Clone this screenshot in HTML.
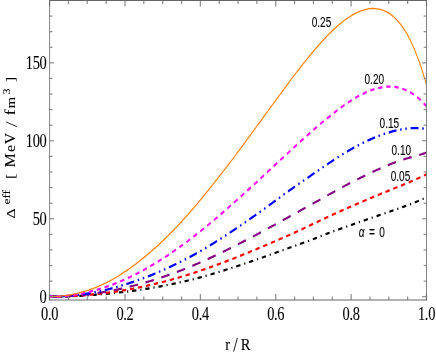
<!DOCTYPE html>
<html><head><meta charset="utf-8"><style>
html,body{margin:0;padding:0;background:#fff;}
svg{display:block} text{-webkit-font-smoothing:antialiased;} .t{opacity:0.999}
</style></head><body>
<svg width="436" height="354" viewBox="0 0 436 354">
<rect width="436" height="354" fill="#fff"/>
<defs><clipPath id="c"><rect x="63.67137355584082" y="0.5" width="483.8254172015404" height="299.5"/></clipPath></defs>
<g transform="scale(0.779,1)" clip-path="url(#c)">
<path d="M63.67,296.70 L66.09,296.70 L68.51,296.69 L70.93,296.67 L73.35,296.65 L75.77,296.62 L78.19,296.58 L80.61,296.54 L83.02,296.49 L85.44,296.43 L87.86,296.37 L90.28,296.30 L92.70,296.23 L95.12,296.15 L97.54,296.06 L99.96,295.96 L102.38,295.86 L104.80,295.75 L107.22,295.64 L109.63,295.52 L112.05,295.39 L114.47,295.25 L116.89,295.11 L119.31,294.96 L121.73,294.81 L124.15,294.65 L126.57,294.48 L128.99,294.31 L131.41,294.14 L133.83,293.96 L136.25,293.79 L138.66,293.61 L141.08,293.43 L143.50,293.24 L145.92,293.06 L148.34,292.87 L150.76,292.67 L153.18,292.47 L155.60,292.26 L158.02,292.04 L160.44,291.82 L162.86,291.59 L165.27,291.36 L167.69,291.12 L170.11,290.87 L172.53,290.61 L174.95,290.35 L177.37,290.08 L179.79,289.80 L182.21,289.52 L184.63,289.23 L187.05,288.93 L189.47,288.63 L191.89,288.32 L194.30,288.00 L196.72,287.67 L199.14,287.34 L201.56,287.01 L203.98,286.66 L206.40,286.31 L208.82,285.95 L211.24,285.59 L213.66,285.22 L216.08,284.84 L218.50,284.46 L220.91,284.07 L223.33,283.67 L225.75,283.27 L228.17,282.86 L230.59,282.44 L233.01,282.02 L235.43,281.59 L237.85,281.15 L240.27,280.71 L242.69,280.26 L245.11,279.81 L247.53,279.34 L249.94,278.87 L252.36,278.39 L254.78,277.90 L257.20,277.40 L259.62,276.89 L262.04,276.36 L264.46,275.83 L266.88,275.29 L269.30,274.74 L271.72,274.18 L274.14,273.62 L276.55,273.05 L278.97,272.48 L281.39,271.90 L283.81,271.31 L286.23,270.72 L288.65,270.13 L291.07,269.53 L293.49,268.93 L295.91,268.32 L298.33,267.71 L300.75,267.10 L303.16,266.48 L305.58,265.85 L308.00,265.22 L310.42,264.59 L312.84,263.96 L315.26,263.32 L317.68,262.68 L320.10,262.03 L322.52,261.38 L324.94,260.73 L327.36,260.08 L329.78,259.42 L332.19,258.76 L334.61,258.10 L337.03,257.44 L339.45,256.77 L341.87,256.10 L344.29,255.43 L346.71,254.76 L349.13,254.09 L351.55,253.42 L353.97,252.74 L356.39,252.06 L358.80,251.39 L361.22,250.71 L363.64,250.03 L366.06,249.35 L368.48,248.67 L370.90,247.99 L373.32,247.31 L375.74,246.63 L378.16,245.95 L380.58,245.27 L383.00,244.59 L385.42,243.92 L387.83,243.24 L390.25,242.56 L392.67,241.87 L395.09,241.19 L397.51,240.49 L399.93,239.78 L402.35,239.06 L404.77,238.33 L407.19,237.59 L409.61,236.84 L412.03,236.08 L414.44,235.33 L416.86,234.59 L419.28,233.86 L421.70,233.14 L424.12,232.43 L426.54,231.73 L428.96,231.03 L431.38,230.35 L433.80,229.67 L436.22,228.99 L438.64,228.32 L441.06,227.64 L443.47,226.97 L445.89,226.31 L448.31,225.64 L450.73,224.98 L453.15,224.32 L455.57,223.66 L457.99,223.00 L460.41,222.34 L462.83,221.69 L465.25,221.04 L467.67,220.38 L470.08,219.73 L472.50,219.08 L474.92,218.43 L477.34,217.78 L479.76,217.13 L482.18,216.48 L484.60,215.83 L487.02,215.18 L489.44,214.52 L491.86,213.87 L494.28,213.22 L496.70,212.57 L499.11,211.91 L501.53,211.26 L503.95,210.61 L506.37,209.96 L508.79,209.31 L511.21,208.65 L513.63,207.98 L516.05,207.31 L518.47,206.62 L520.89,205.93 L523.31,205.23 L525.72,204.51 L528.14,203.78 L530.56,203.04 L532.98,202.28 L535.40,201.51 L537.82,200.72 L540.24,199.91 L542.66,199.08 L545.08,198.23 L547.50,197.35" fill="none" stroke="#000000" stroke-width="2.2" stroke-dasharray="5.5 5.0 1.5 5.0" stroke-dashoffset="12.84"/>
<path d="M63.67,296.70 L66.09,296.70 L68.51,296.68 L70.93,296.66 L73.35,296.63 L75.77,296.59 L78.19,296.55 L80.61,296.49 L83.02,296.43 L85.44,296.35 L87.86,296.27 L90.28,296.18 L92.70,296.09 L95.12,295.98 L97.54,295.86 L99.96,295.74 L102.38,295.61 L104.80,295.47 L107.22,295.32 L109.63,295.16 L112.05,294.99 L114.47,294.82 L116.89,294.63 L119.31,294.44 L121.73,294.24 L124.15,294.03 L126.57,293.82 L128.99,293.59 L131.41,293.36 L133.83,293.13 L136.25,292.88 L138.66,292.63 L141.08,292.38 L143.50,292.12 L145.92,291.85 L148.34,291.58 L150.76,291.30 L153.18,291.00 L155.60,290.71 L158.02,290.40 L160.44,290.08 L162.86,289.76 L165.27,289.42 L167.69,289.08 L170.11,288.73 L172.53,288.37 L174.95,288.01 L177.37,287.63 L179.79,287.25 L182.21,286.86 L184.63,286.46 L187.05,286.05 L189.47,285.63 L191.89,285.20 L194.30,284.77 L196.72,284.33 L199.14,283.88 L201.56,283.42 L203.98,282.95 L206.40,282.47 L208.82,281.99 L211.24,281.50 L213.66,281.00 L216.08,280.49 L218.50,279.98 L220.91,279.45 L223.33,278.92 L225.75,278.38 L228.17,277.83 L230.59,277.28 L233.01,276.72 L235.43,276.15 L237.85,275.57 L240.27,274.99 L242.69,274.39 L245.11,273.79 L247.53,273.19 L249.94,272.57 L252.36,271.95 L254.78,271.32 L257.20,270.69 L259.62,270.05 L262.04,269.40 L264.46,268.74 L266.88,268.08 L269.30,267.41 L271.72,266.74 L274.14,266.06 L276.55,265.37 L278.97,264.67 L281.39,263.98 L283.81,263.27 L286.23,262.56 L288.65,261.84 L291.07,261.12 L293.49,260.40 L295.91,259.66 L298.33,258.93 L300.75,258.18 L303.16,257.44 L305.58,256.69 L308.00,255.93 L310.42,255.17 L312.84,254.41 L315.26,253.64 L317.68,252.87 L320.10,252.09 L322.52,251.32 L324.94,250.53 L327.36,249.75 L329.78,248.96 L332.19,248.17 L334.61,247.37 L337.03,246.58 L339.45,245.78 L341.87,244.98 L344.29,244.18 L346.71,243.37 L349.13,242.57 L351.55,241.76 L353.97,240.95 L356.39,240.14 L358.80,239.32 L361.22,238.51 L363.64,237.69 L366.06,236.87 L368.48,236.04 L370.90,235.20 L373.32,234.36 L375.74,233.50 L378.16,232.64 L380.58,231.77 L383.00,230.89 L385.42,230.01 L387.83,229.13 L390.25,228.24 L392.67,227.35 L395.09,226.45 L397.51,225.55 L399.93,224.65 L402.35,223.75 L404.77,222.84 L407.19,221.94 L409.61,221.04 L412.03,220.15 L414.44,219.26 L416.86,218.37 L419.28,217.49 L421.70,216.62 L424.12,215.76 L426.54,214.90 L428.96,214.04 L431.38,213.19 L433.80,212.35 L436.22,211.50 L438.64,210.66 L441.06,209.83 L443.47,208.99 L445.89,208.16 L448.31,207.33 L450.73,206.51 L453.15,205.69 L455.57,204.87 L457.99,204.05 L460.41,203.24 L462.83,202.42 L465.25,201.61 L467.67,200.81 L470.08,200.00 L472.50,199.19 L474.92,198.39 L477.34,197.59 L479.76,196.80 L482.18,196.01 L484.60,195.22 L487.02,194.44 L489.44,193.67 L491.86,192.90 L494.28,192.13 L496.70,191.36 L499.11,190.59 L501.53,189.83 L503.95,189.06 L506.37,188.30 L508.79,187.53 L511.21,186.77 L513.63,186.01 L516.05,185.25 L518.47,184.48 L520.89,183.71 L523.31,182.92 L525.72,182.13 L528.14,181.32 L530.56,180.50 L532.98,179.67 L535.40,178.81 L537.82,177.94 L540.24,177.04 L542.66,176.12 L545.08,175.17 L547.50,174.19" fill="none" stroke="#ff0000" stroke-width="2.2" stroke-dasharray="5.6 4.79" stroke-dashoffset="0.47"/>
<path d="M63.67,296.70 L66.09,296.69 L68.51,296.68 L70.93,296.65 L73.35,296.61 L75.77,296.56 L78.19,296.50 L80.61,296.43 L83.02,296.34 L85.44,296.25 L87.86,296.14 L90.28,296.02 L92.70,295.89 L95.12,295.75 L97.54,295.60 L99.96,295.44 L102.38,295.27 L104.80,295.08 L107.22,294.89 L109.63,294.68 L112.05,294.46 L114.47,294.23 L116.89,293.99 L119.31,293.74 L121.73,293.48 L124.15,293.21 L126.57,292.92 L128.99,292.63 L131.41,292.32 L133.83,292.00 L136.25,291.67 L138.66,291.34 L141.08,290.98 L143.50,290.62 L145.92,290.25 L148.34,289.87 L150.76,289.48 L153.18,289.07 L155.60,288.66 L158.02,288.24 L160.44,287.80 L162.86,287.36 L165.27,286.91 L167.69,286.45 L170.11,285.98 L172.53,285.50 L174.95,285.01 L177.37,284.51 L179.79,284.00 L182.21,283.48 L184.63,282.95 L187.05,282.40 L189.47,281.85 L191.89,281.29 L194.30,280.71 L196.72,280.13 L199.14,279.54 L201.56,278.93 L203.98,278.32 L206.40,277.70 L208.82,277.06 L211.24,276.42 L213.66,275.77 L216.08,275.10 L218.50,274.43 L220.91,273.75 L223.33,273.06 L225.75,272.36 L228.17,271.65 L230.59,270.93 L233.01,270.20 L235.43,269.46 L237.85,268.71 L240.27,267.96 L242.69,267.19 L245.11,266.42 L247.53,265.64 L249.94,264.85 L252.36,264.04 L254.78,263.23 L257.20,262.41 L259.62,261.58 L262.04,260.74 L264.46,259.89 L266.88,259.03 L269.30,258.16 L271.72,257.28 L274.14,256.40 L276.55,255.50 L278.97,254.61 L281.39,253.70 L283.81,252.79 L286.23,251.87 L288.65,250.95 L291.07,250.01 L293.49,249.08 L295.91,248.13 L298.33,247.18 L300.75,246.23 L303.16,245.27 L305.58,244.30 L308.00,243.33 L310.42,242.36 L312.84,241.38 L315.26,240.39 L317.68,239.40 L320.10,238.41 L322.52,237.41 L324.94,236.41 L327.36,235.41 L329.78,234.40 L332.19,233.39 L334.61,232.37 L337.03,231.36 L339.45,230.34 L341.87,229.32 L344.29,228.29 L346.71,227.26 L349.13,226.23 L351.55,225.20 L353.97,224.17 L356.39,223.13 L358.80,222.09 L361.22,221.04 L363.64,220.00 L366.06,218.96 L368.48,217.91 L370.90,216.87 L373.32,215.82 L375.74,214.78 L378.16,213.74 L380.58,212.69 L383.00,211.65 L385.42,210.61 L387.83,209.58 L390.25,208.54 L392.67,207.50 L395.09,206.46 L397.51,205.42 L399.93,204.38 L402.35,203.33 L404.77,202.27 L407.19,201.21 L409.61,200.15 L412.03,199.08 L414.44,198.02 L416.86,196.96 L419.28,195.90 L421.70,194.84 L424.12,193.79 L426.54,192.74 L428.96,191.70 L431.38,190.67 L433.80,189.64 L436.22,188.61 L438.64,187.60 L441.06,186.59 L443.47,185.58 L445.89,184.59 L448.31,183.60 L450.73,182.61 L453.15,181.63 L455.57,180.66 L457.99,179.70 L460.41,178.74 L462.83,177.79 L465.25,176.85 L467.67,175.91 L470.08,174.98 L472.50,174.07 L474.92,173.17 L477.34,172.28 L479.76,171.40 L482.18,170.55 L484.60,169.70 L487.02,168.87 L489.44,168.04 L491.86,167.23 L494.28,166.42 L496.70,165.63 L499.11,164.84 L501.53,164.07 L503.95,163.32 L506.37,162.59 L508.79,161.90 L511.21,161.23 L513.63,160.59 L516.05,159.97 L518.47,159.37 L520.89,158.79 L523.31,158.23 L525.72,157.68 L528.14,157.15 L530.56,156.63 L532.98,156.11 L535.40,155.59 L537.82,155.06 L540.24,154.50 L542.66,153.91 L545.08,153.29 L547.50,152.62" fill="none" stroke="#800080" stroke-width="2.2" stroke-dasharray="11.0 9.8" stroke-dashoffset="0.63"/>
<path d="M63.67,296.70 L66.09,296.69 L68.51,296.67 L70.93,296.63 L73.35,296.58 L75.77,296.51 L78.19,296.42 L80.61,296.32 L83.02,296.20 L85.44,296.07 L87.86,295.92 L90.28,295.76 L92.70,295.58 L95.12,295.39 L97.54,295.18 L99.96,294.95 L102.38,294.71 L104.80,294.46 L107.22,294.19 L109.63,293.90 L112.05,293.60 L114.47,293.28 L116.89,292.95 L119.31,292.61 L121.73,292.24 L124.15,291.87 L126.57,291.48 L128.99,291.07 L131.41,290.65 L133.83,290.22 L136.25,289.77 L138.66,289.30 L141.08,288.82 L143.50,288.33 L145.92,287.82 L148.34,287.30 L150.76,286.76 L153.18,286.21 L155.60,285.65 L158.02,285.08 L160.44,284.50 L162.86,283.91 L165.27,283.30 L167.69,282.69 L170.11,282.06 L172.53,281.42 L174.95,280.77 L177.37,280.10 L179.79,279.42 L182.21,278.73 L184.63,278.02 L187.05,277.31 L189.47,276.58 L191.89,275.83 L194.30,275.08 L196.72,274.31 L199.14,273.52 L201.56,272.73 L203.98,271.92 L206.40,271.10 L208.82,270.27 L211.24,269.43 L213.66,268.57 L216.08,267.71 L218.50,266.83 L220.91,265.94 L223.33,265.04 L225.75,264.12 L228.17,263.20 L230.59,262.26 L233.01,261.31 L235.43,260.36 L237.85,259.39 L240.27,258.41 L242.69,257.41 L245.11,256.41 L247.53,255.40 L249.94,254.37 L252.36,253.32 L254.78,252.27 L257.20,251.19 L259.62,250.10 L262.04,248.99 L264.46,247.86 L266.88,246.72 L269.30,245.57 L271.72,244.41 L274.14,243.24 L276.55,242.06 L278.97,240.86 L281.39,239.67 L283.81,238.46 L286.23,237.24 L288.65,236.02 L291.07,234.78 L293.49,233.54 L295.91,232.30 L298.33,231.04 L300.75,229.78 L303.16,228.51 L305.58,227.23 L308.00,225.95 L310.42,224.66 L312.84,223.36 L315.26,222.05 L317.68,220.74 L320.10,219.43 L322.52,218.10 L324.94,216.78 L327.36,215.44 L329.78,214.10 L332.19,212.75 L334.61,211.40 L337.03,210.04 L339.45,208.68 L341.87,207.31 L344.29,205.94 L346.71,204.57 L349.13,203.19 L351.55,201.81 L353.97,200.43 L356.39,199.04 L358.80,197.66 L361.22,196.28 L363.64,194.91 L366.06,193.54 L368.48,192.18 L370.90,190.84 L373.32,189.50 L375.74,188.17 L378.16,186.85 L380.58,185.54 L383.00,184.23 L385.42,182.92 L387.83,181.61 L390.25,180.31 L392.67,179.01 L395.09,177.71 L397.51,176.41 L399.93,175.11 L402.35,173.81 L404.77,172.51 L407.19,171.20 L409.61,169.90 L412.03,168.60 L414.44,167.31 L416.86,166.03 L419.28,164.75 L421.70,163.48 L424.12,162.22 L426.54,160.96 L428.96,159.72 L431.38,158.50 L433.80,157.28 L436.22,156.08 L438.64,154.89 L441.06,153.71 L443.47,152.55 L445.89,151.42 L448.31,150.30 L450.73,149.21 L453.15,148.14 L455.57,147.09 L457.99,146.07 L460.41,145.07 L462.83,144.10 L465.25,143.15 L467.67,142.22 L470.08,141.32 L472.50,140.44 L474.92,139.58 L477.34,138.75 L479.76,137.95 L482.18,137.18 L484.60,136.43 L487.02,135.71 L489.44,135.02 L491.86,134.36 L494.28,133.73 L496.70,133.12 L499.11,132.53 L501.53,131.97 L503.95,131.44 L506.37,130.94 L508.79,130.47 L511.21,130.03 L513.63,129.64 L516.05,129.28 L518.47,128.97 L520.89,128.70 L523.31,128.48 L525.72,128.30 L528.14,128.17 L530.56,128.09 L532.98,128.06 L535.40,128.09 L537.82,128.16 L540.24,128.29 L542.66,128.48 L545.08,128.73 L547.50,129.04" fill="none" stroke="#0000ff" stroke-width="2.3" stroke-dasharray="10.2 4.8 1.95 4.8 1.95 4.8" stroke-dashoffset="14.31"/>
<path d="M63.67,296.70 L66.09,296.69 L68.51,296.66 L70.93,296.60 L73.35,296.52 L75.77,296.42 L78.19,296.30 L80.61,296.16 L83.02,295.99 L85.44,295.80 L87.86,295.59 L90.28,295.36 L92.70,295.11 L95.12,294.83 L97.54,294.53 L99.96,294.21 L102.38,293.87 L104.80,293.51 L107.22,293.13 L109.63,292.72 L112.05,292.29 L114.47,291.84 L116.89,291.37 L119.31,290.88 L121.73,290.37 L124.15,289.84 L126.57,289.29 L128.99,288.71 L131.41,288.12 L133.83,287.50 L136.25,286.86 L138.66,286.21 L141.08,285.53 L143.50,284.83 L145.92,284.12 L148.34,283.38 L150.76,282.62 L153.18,281.85 L155.60,281.05 L158.02,280.23 L160.44,279.39 L162.86,278.53 L165.27,277.64 L167.69,276.74 L170.11,275.82 L172.53,274.88 L174.95,273.92 L177.37,272.94 L179.79,271.94 L182.21,270.93 L184.63,269.89 L187.05,268.84 L189.47,267.78 L191.89,266.69 L194.30,265.59 L196.72,264.47 L199.14,263.34 L201.56,262.18 L203.98,261.02 L206.40,259.83 L208.82,258.63 L211.24,257.41 L213.66,256.18 L216.08,254.93 L218.50,253.67 L220.91,252.39 L223.33,251.10 L225.75,249.79 L228.17,248.46 L230.59,247.12 L233.01,245.76 L235.43,244.38 L237.85,242.99 L240.27,241.58 L242.69,240.15 L245.11,238.71 L247.53,237.26 L249.94,235.79 L252.36,234.31 L254.78,232.82 L257.20,231.31 L259.62,229.79 L262.04,228.26 L264.46,226.72 L266.88,225.17 L269.30,223.60 L271.72,222.02 L274.14,220.44 L276.55,218.84 L278.97,217.23 L281.39,215.61 L283.81,213.98 L286.23,212.34 L288.65,210.69 L291.07,209.04 L293.49,207.38 L295.91,205.71 L298.33,204.04 L300.75,202.37 L303.16,200.69 L305.58,199.01 L308.00,197.32 L310.42,195.62 L312.84,193.92 L315.26,192.21 L317.68,190.49 L320.10,188.76 L322.52,187.03 L324.94,185.30 L327.36,183.55 L329.78,181.81 L332.19,180.05 L334.61,178.30 L337.03,176.54 L339.45,174.78 L341.87,173.02 L344.29,171.27 L346.71,169.51 L349.13,167.76 L351.55,166.01 L353.97,164.27 L356.39,162.52 L358.80,160.78 L361.22,159.03 L363.64,157.29 L366.06,155.54 L368.48,153.80 L370.90,152.06 L373.32,150.33 L375.74,148.59 L378.16,146.86 L380.58,145.13 L383.00,143.41 L385.42,141.70 L387.83,139.99 L390.25,138.29 L392.67,136.60 L395.09,134.91 L397.51,133.24 L399.93,131.57 L402.35,129.92 L404.77,128.28 L407.19,126.66 L409.61,125.04 L412.03,123.45 L414.44,121.86 L416.86,120.30 L419.28,118.75 L421.70,117.21 L424.12,115.70 L426.54,114.20 L428.96,112.72 L431.38,111.25 L433.80,109.81 L436.22,108.40 L438.64,107.01 L441.06,105.65 L443.47,104.32 L445.89,103.02 L448.31,101.76 L450.73,100.53 L453.15,99.34 L455.57,98.20 L457.99,97.09 L460.41,96.03 L462.83,95.01 L465.25,94.04 L467.67,93.12 L470.08,92.25 L472.50,91.44 L474.92,90.68 L477.34,89.98 L479.76,89.34 L482.18,88.76 L484.60,88.24 L487.02,87.79 L489.44,87.41 L491.86,87.11 L494.28,86.87 L496.70,86.72 L499.11,86.64 L501.53,86.65 L503.95,86.74 L506.37,86.92 L508.79,87.19 L511.21,87.56 L513.63,88.02 L516.05,88.58 L518.47,89.24 L520.89,90.02 L523.31,90.90 L525.72,91.89 L528.14,93.00 L530.56,94.22 L532.98,95.57 L535.40,97.05 L537.82,98.66 L540.24,100.40 L542.66,102.27 L545.08,104.29 L547.50,106.45" fill="none" stroke="#ff00ff" stroke-width="2.2" stroke-dasharray="5.55 4.87" stroke-dashoffset="1.50"/>
<path d="M63.67,296.70 L66.09,296.68 L68.51,296.64 L70.93,296.56 L73.35,296.45 L75.77,296.31 L78.19,296.14 L80.61,295.94 L83.02,295.71 L85.44,295.45 L87.86,295.15 L90.28,294.83 L92.70,294.47 L95.12,294.09 L97.54,293.67 L99.96,293.22 L102.38,292.74 L104.80,292.23 L107.22,291.69 L109.63,291.12 L112.05,290.52 L114.47,289.89 L116.89,289.22 L119.31,288.53 L121.73,287.80 L124.15,287.05 L126.57,286.26 L128.99,285.44 L131.41,284.58 L133.83,283.70 L136.25,282.77 L138.66,281.81 L141.08,280.82 L143.50,279.79 L145.92,278.73 L148.34,277.63 L150.76,276.51 L153.18,275.35 L155.60,274.16 L158.02,272.95 L160.44,271.70 L162.86,270.43 L165.27,269.12 L167.69,267.79 L170.11,266.42 L172.53,265.03 L174.95,263.61 L177.37,262.16 L179.79,260.68 L182.21,259.17 L184.63,257.64 L187.05,256.08 L189.47,254.49 L191.89,252.88 L194.30,251.24 L196.72,249.58 L199.14,247.90 L201.56,246.19 L203.98,244.46 L206.40,242.70 L208.82,240.92 L211.24,239.11 L213.66,237.28 L216.08,235.42 L218.50,233.53 L220.91,231.62 L223.33,229.68 L225.75,227.71 L228.17,225.73 L230.59,223.71 L233.01,221.67 L235.43,219.61 L237.85,217.52 L240.27,215.40 L242.69,213.27 L245.11,211.10 L247.53,208.92 L249.94,206.72 L252.36,204.49 L254.78,202.24 L257.20,199.98 L259.62,197.69 L262.04,195.39 L264.46,193.07 L266.88,190.73 L269.30,188.38 L271.72,186.03 L274.14,183.66 L276.55,181.28 L278.97,178.89 L281.39,176.50 L283.81,174.08 L286.23,171.66 L288.65,169.22 L291.07,166.77 L293.49,164.31 L295.91,161.83 L298.33,159.34 L300.75,156.84 L303.16,154.33 L305.58,151.80 L308.00,149.27 L310.42,146.73 L312.84,144.18 L315.26,141.62 L317.68,139.05 L320.10,136.48 L322.52,133.90 L324.94,131.32 L327.36,128.74 L329.78,126.15 L332.19,123.56 L334.61,120.96 L337.03,118.37 L339.45,115.78 L341.87,113.18 L344.29,110.59 L346.71,108.01 L349.13,105.42 L351.55,102.84 L353.97,100.27 L356.39,97.70 L358.80,95.13 L361.22,92.58 L363.64,90.02 L366.06,87.47 L368.48,84.93 L370.90,82.40 L373.32,79.88 L375.74,77.38 L378.16,74.89 L380.58,72.42 L383.00,69.97 L385.42,67.54 L387.83,65.13 L390.25,62.74 L392.67,60.38 L395.09,58.05 L397.51,55.74 L399.93,53.47 L402.35,51.22 L404.77,49.01 L407.19,46.83 L409.61,44.69 L412.03,42.59 L414.44,40.53 L416.86,38.51 L419.28,36.53 L421.70,34.60 L424.12,32.71 L426.54,30.88 L428.96,29.10 L431.38,27.37 L433.80,25.70 L436.22,24.09 L438.64,22.54 L441.06,21.05 L443.47,19.63 L445.89,18.29 L448.31,17.01 L450.73,15.81 L453.15,14.68 L455.57,13.64 L457.99,12.69 L460.41,11.82 L462.83,11.04 L465.25,10.36 L467.67,9.78 L470.08,9.29 L472.50,8.92 L474.92,8.66 L477.34,8.51 L479.76,8.48 L482.18,8.58 L484.60,8.80 L487.02,9.16 L489.44,9.66 L491.86,10.30 L494.28,11.09 L496.70,12.04 L499.11,13.15 L501.53,14.42 L503.95,15.88 L506.37,17.53 L508.79,19.37 L511.21,21.42 L513.63,23.69 L516.05,26.19 L518.47,28.94 L520.89,31.94 L523.31,35.20 L525.72,38.75 L528.14,42.59 L530.56,46.74 L532.98,51.20 L535.40,55.98 L537.82,61.08 L540.24,66.49 L542.66,72.20 L545.08,78.20 L547.50,84.49" fill="none" stroke="#ff8000" stroke-width="1.3"/>
</g>
<g stroke="#8c8c8c" stroke-width="1.2"><line x1="49.60" y1="300.0" x2="49.60" y2="294.0"/><line x1="49.60" y1="0.5" x2="49.60" y2="6.5"/><line x1="68.44" y1="300.0" x2="68.44" y2="296.4"/><line x1="68.44" y1="0.5" x2="68.44" y2="4.1"/><line x1="87.29" y1="300.0" x2="87.29" y2="296.4"/><line x1="87.29" y1="0.5" x2="87.29" y2="4.1"/><line x1="106.13" y1="300.0" x2="106.13" y2="296.4"/><line x1="106.13" y1="0.5" x2="106.13" y2="4.1"/><line x1="124.98" y1="300.0" x2="124.98" y2="294.0"/><line x1="124.98" y1="0.5" x2="124.98" y2="6.5"/><line x1="143.82" y1="300.0" x2="143.82" y2="296.4"/><line x1="143.82" y1="0.5" x2="143.82" y2="4.1"/><line x1="162.67" y1="300.0" x2="162.67" y2="296.4"/><line x1="162.67" y1="0.5" x2="162.67" y2="4.1"/><line x1="181.51" y1="300.0" x2="181.51" y2="296.4"/><line x1="181.51" y1="0.5" x2="181.51" y2="4.1"/><line x1="200.36" y1="300.0" x2="200.36" y2="294.0"/><line x1="200.36" y1="0.5" x2="200.36" y2="6.5"/><line x1="219.20" y1="300.0" x2="219.20" y2="296.4"/><line x1="219.20" y1="0.5" x2="219.20" y2="4.1"/><line x1="238.05" y1="300.0" x2="238.05" y2="296.4"/><line x1="238.05" y1="0.5" x2="238.05" y2="4.1"/><line x1="256.89" y1="300.0" x2="256.89" y2="296.4"/><line x1="256.89" y1="0.5" x2="256.89" y2="4.1"/><line x1="275.74" y1="300.0" x2="275.74" y2="294.0"/><line x1="275.74" y1="0.5" x2="275.74" y2="6.5"/><line x1="294.58" y1="300.0" x2="294.58" y2="296.4"/><line x1="294.58" y1="0.5" x2="294.58" y2="4.1"/><line x1="313.43" y1="300.0" x2="313.43" y2="296.4"/><line x1="313.43" y1="0.5" x2="313.43" y2="4.1"/><line x1="332.28" y1="300.0" x2="332.28" y2="296.4"/><line x1="332.28" y1="0.5" x2="332.28" y2="4.1"/><line x1="351.12" y1="300.0" x2="351.12" y2="294.0"/><line x1="351.12" y1="0.5" x2="351.12" y2="6.5"/><line x1="369.96" y1="300.0" x2="369.96" y2="296.4"/><line x1="369.96" y1="0.5" x2="369.96" y2="4.1"/><line x1="388.81" y1="300.0" x2="388.81" y2="296.4"/><line x1="388.81" y1="0.5" x2="388.81" y2="4.1"/><line x1="407.65" y1="300.0" x2="407.65" y2="296.4"/><line x1="407.65" y1="0.5" x2="407.65" y2="4.1"/><line x1="426.50" y1="300.0" x2="426.50" y2="294.0"/><line x1="426.50" y1="0.5" x2="426.50" y2="6.5"/><line x1="49.6" y1="296.70" x2="54.0" y2="296.70"/><line x1="426.5" y1="296.70" x2="422.1" y2="296.70"/><line x1="49.6" y1="281.11" x2="52.5" y2="281.11"/><line x1="426.5" y1="281.11" x2="423.6" y2="281.11"/><line x1="49.6" y1="265.52" x2="52.5" y2="265.52"/><line x1="426.5" y1="265.52" x2="423.6" y2="265.52"/><line x1="49.6" y1="249.93" x2="52.5" y2="249.93"/><line x1="426.5" y1="249.93" x2="423.6" y2="249.93"/><line x1="49.6" y1="234.34" x2="52.5" y2="234.34"/><line x1="426.5" y1="234.34" x2="423.6" y2="234.34"/><line x1="49.6" y1="218.75" x2="54.0" y2="218.75"/><line x1="426.5" y1="218.75" x2="422.1" y2="218.75"/><line x1="49.6" y1="203.16" x2="52.5" y2="203.16"/><line x1="426.5" y1="203.16" x2="423.6" y2="203.16"/><line x1="49.6" y1="187.57" x2="52.5" y2="187.57"/><line x1="426.5" y1="187.57" x2="423.6" y2="187.57"/><line x1="49.6" y1="171.98" x2="52.5" y2="171.98"/><line x1="426.5" y1="171.98" x2="423.6" y2="171.98"/><line x1="49.6" y1="156.39" x2="52.5" y2="156.39"/><line x1="426.5" y1="156.39" x2="423.6" y2="156.39"/><line x1="49.6" y1="140.80" x2="54.0" y2="140.80"/><line x1="426.5" y1="140.80" x2="422.1" y2="140.80"/><line x1="49.6" y1="125.21" x2="52.5" y2="125.21"/><line x1="426.5" y1="125.21" x2="423.6" y2="125.21"/><line x1="49.6" y1="109.62" x2="52.5" y2="109.62"/><line x1="426.5" y1="109.62" x2="423.6" y2="109.62"/><line x1="49.6" y1="94.03" x2="52.5" y2="94.03"/><line x1="426.5" y1="94.03" x2="423.6" y2="94.03"/><line x1="49.6" y1="78.44" x2="52.5" y2="78.44"/><line x1="426.5" y1="78.44" x2="423.6" y2="78.44"/><line x1="49.6" y1="62.85" x2="54.0" y2="62.85"/><line x1="426.5" y1="62.85" x2="422.1" y2="62.85"/><line x1="49.6" y1="47.26" x2="52.5" y2="47.26"/><line x1="426.5" y1="47.26" x2="423.6" y2="47.26"/><line x1="49.6" y1="31.67" x2="52.5" y2="31.67"/><line x1="426.5" y1="31.67" x2="423.6" y2="31.67"/><line x1="49.6" y1="16.08" x2="52.5" y2="16.08"/><line x1="426.5" y1="16.08" x2="423.6" y2="16.08"/></g>
<g stroke="#666"><line x1="49.6" y1="0.0" x2="49.6" y2="300.5" stroke-width="0.8"/><line x1="426.5" y1="0.0" x2="426.5" y2="300.5" stroke-width="0.8"/><line x1="49.2" y1="0.5" x2="426.9" y2="0.5"/><line x1="49.2" y1="300.0" x2="426.9" y2="300.0"/></g>
<g class="t" font-family="'Liberation Serif',serif" font-size="17.8" fill="#000" stroke="#000" stroke-width="0.1" letter-spacing="-0.4"><text transform="translate(49.60,320) scale(0.81,1)" text-anchor="middle">0.0</text><text transform="translate(124.98,320) scale(0.81,1)" text-anchor="middle">0.2</text><text transform="translate(200.36,320) scale(0.81,1)" text-anchor="middle">0.4</text><text transform="translate(275.74,320) scale(0.81,1)" text-anchor="middle">0.6</text><text transform="translate(351.12,320) scale(0.81,1)" text-anchor="middle">0.8</text><text transform="translate(426.50,320) scale(0.81,1)" text-anchor="middle">1.0</text><text transform="translate(46.4,302.60) scale(0.81,1)" text-anchor="end">0</text><text transform="translate(46.4,224.65) scale(0.81,1)" text-anchor="end">50</text><text transform="translate(46.4,146.70) scale(0.81,1)" text-anchor="end">100</text><text transform="translate(46.4,68.75) scale(0.81,1)" text-anchor="end">150</text>
<text transform="translate(225.2,349.6) scale(0.83,1)" font-size="17.5">r</text><text transform="translate(240.7,349.6) scale(0.83,1)" font-size="17.5">R</text><line x1="233.6" y1="351.6" x2="237.4" y2="338.0" stroke="#000" stroke-width="0.9"/>
<text transform="translate(14.9,218.5) scale(0.8,1) rotate(-90)" font-size="15.8" letter-spacing="0">Δ</text><text transform="translate(10.0,204.4) scale(0.82,1) rotate(-90)" font-size="13.2" letter-spacing="0">eff</text><text transform="translate(15.1,179.0) scale(0.865,1) rotate(-90)" font-size="15.6" letter-spacing="0">[</text><text transform="translate(14.8,167.6) scale(0.87,1) rotate(-90)" font-size="16.2" letter-spacing="0">M</text><text transform="translate(14.8,152.1) scale(0.92,1) rotate(-90)" font-size="16.0" letter-spacing="0">e</text><text transform="translate(14.8,144.2) scale(0.92,1) rotate(-90)" font-size="16.0" letter-spacing="0">V</text><text transform="translate(14.8,115.3) scale(0.865,1) rotate(-90)" font-size="17.0" letter-spacing="0">f</text><text transform="translate(14.8,108.2) scale(0.9,1) rotate(-90)" font-size="14.6" letter-spacing="0">m</text><text transform="translate(10.0,94.2) scale(0.95,1) rotate(-90)" font-size="11.5" letter-spacing="0">3</text><text transform="translate(15.1,82.0) scale(0.865,1) rotate(-90)" font-size="15.6" letter-spacing="0">]</text><line x1="16.9" y1="126.7" x2="6.1" y2="121.9" stroke="#000" stroke-width="0.85"/>

<g font-family="'Liberation Sans',sans-serif" font-size="14.4" fill="#000" stroke="#000" stroke-width="0.12" letter-spacing="0"><text transform="translate(321.5,26.6) scale(0.70,1)" text-anchor="middle">0.25</text><text transform="translate(374.3,84.2) scale(0.70,1)" text-anchor="middle">0.20</text><text transform="translate(389.4,127.9) scale(0.70,1)" text-anchor="middle">0.15</text><text transform="translate(401.3,155) scale(0.70,1)" text-anchor="middle">0.10</text><text transform="translate(400.5,181.0) scale(0.70,1)" text-anchor="middle">0.05</text><text transform="translate(371.8,237) scale(0.70,1)" text-anchor="middle" word-spacing="2.5"><tspan font-style="italic">α</tspan> = 0</text></g></g>
</svg>
</body></html>
